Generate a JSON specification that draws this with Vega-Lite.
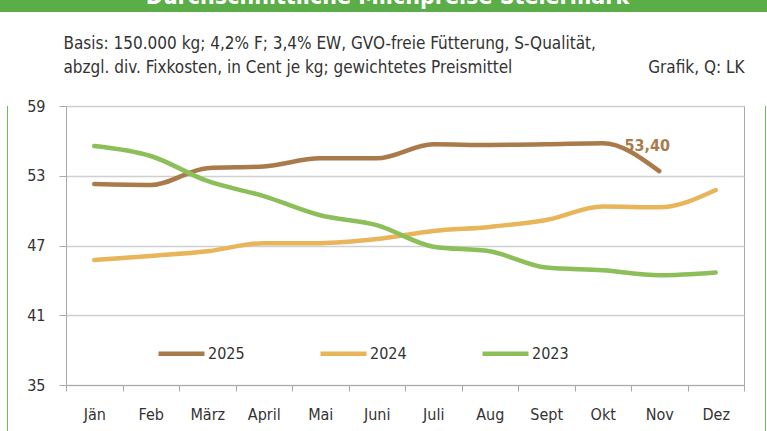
{
  "$schema": "https://vega.github.io/schema/vega-lite/v6.json",
  "padding": 0,
  "background": "white",
  "spacing": 0,
  "config": {
    "font": "DejaVu Sans Condensed, Liberation Sans Narrow, Roboto, sans-serif",
    "locale": {"number": {"decimal": ",", "thousands": ".", "grouping": [3], "currency": ["", " €"]}},
    "concat": {"spacing": 0}
  },
  "datasets": {
    "prices": [
      {"year": "2025", "month": "Jän", "price": 52.28},
      {"year": "2025", "month": "Feb", "price": 52.2},
      {"year": "2025", "month": "März", "price": 53.65},
      {"year": "2025", "month": "April", "price": 53.8},
      {"year": "2025", "month": "Mai", "price": 54.5},
      {"year": "2025", "month": "Juni", "price": 54.5},
      {"year": "2025", "month": "Juli", "price": 55.7},
      {"year": "2025", "month": "Aug", "price": 55.65},
      {"year": "2025", "month": "Sept", "price": 55.7},
      {"year": "2025", "month": "Okt", "price": 55.8},
      {"year": "2025", "month": "Nov", "price": 53.4},
      {"year": "2024", "month": "Jän", "price": 45.75},
      {"year": "2024", "month": "Feb", "price": 46.1},
      {"year": "2024", "month": "März", "price": 46.5},
      {"year": "2024", "month": "April", "price": 47.2},
      {"year": "2024", "month": "Mai", "price": 47.2},
      {"year": "2024", "month": "Juni", "price": 47.55},
      {"year": "2024", "month": "Juli", "price": 48.25},
      {"year": "2024", "month": "Aug", "price": 48.6},
      {"year": "2024", "month": "Sept", "price": 49.2},
      {"year": "2024", "month": "Okt", "price": 50.35},
      {"year": "2024", "month": "Nov", "price": 50.28},
      {"year": "2024", "month": "Dez", "price": 51.77},
      {"year": "2023", "month": "Jän", "price": 55.56},
      {"year": "2023", "month": "Feb", "price": 54.7},
      {"year": "2023", "month": "März", "price": 52.55},
      {"year": "2023", "month": "April", "price": 51.25},
      {"year": "2023", "month": "Mai", "price": 49.6},
      {"year": "2023", "month": "Juni", "price": 48.75},
      {"year": "2023", "month": "Juli", "price": 46.9},
      {"year": "2023", "month": "Aug", "price": 46.5},
      {"year": "2023", "month": "Sept", "price": 45.1},
      {"year": "2023", "month": "Okt", "price": 44.87},
      {"year": "2023", "month": "Nov", "price": 44.44},
      {"year": "2023", "month": "Dez", "price": 44.68}
    ]
  },
  "vconcat": [
    {
      "width": 767,
      "height": 12,
      "view": {"fill": "#5AAD47", "stroke": null},
      "data": {"values": [{"t": "Durchschnittliche Milchpreise Steiermark"}]},
      "mark": {"type": "text", "clip": true, "color": "white", "fontWeight": "bold", "fontSize": 23, "baseline": "alphabetic", "align": "center", "dy": -2, "dx": 4},
      "encoding": {"text": {"field": "t"}}
    },
    {
      "hconcat": [
        {
          "width": 7, "height": 419,
          "view": {"stroke": null},
          "data": {"values": [{"t": ""}]},
          "mark": "text",
          "encoding": {"text": {"field": "t"}}
        },
        {
          "width": 1, "height": 419,
          "view": {"stroke": null, "fill": "#6DBE5B"},
          "data": {"values": [{"t": ""}]},
          "mark": "text",
          "encoding": {"text": {"field": "t"}}
        },
        {
          "width": 678,
          "height": 279,
          "view": {"stroke": "#a9a9a9", "strokeWidth": 1},
          "title": {"text": " ", "fontSize": 2, "anchor": "start", "frame": "group", "offset": 19},
          "data": {"name": "prices"},
          "layer": [
            {
              "mark": {"type": "line", "interpolate": "monotone", "strokeWidth": 4.5, "strokeCap": "round"},
              "encoding": {
                "x": {
                  "field": "month", "type": "ordinal",
                  "sort": ["Jän", "Feb", "März", "April", "Mai", "Juni", "Juli", "Aug", "Sept", "Okt", "Nov", "Dez"],
                  "scale": {"type": "band", "paddingInner": 0, "paddingOuter": 0},
                  "bandPosition": 0.5,
                  "axis": {
                    "tickBand": "extent", "labelAngle": 0, "domainColor": "#a9a9a9", "tickColor": "#a9a9a9",
                    "tickSize": 6, "labelPadding": 15, "labelFontSize": 16, "labelColor": "#333333", "grid": false,
                    "title": "Grafik, Q: LK", "titleX": 678, "titleY": -313, "titleAlign": "right", "titleBaseline": "alphabetic",
                    "titleAngle": 0, "titleFontSize": 17, "titleFontWeight": "normal", "titleColor": "#333333"
                  }
                },
                "y": {
                  "field": "price", "type": "quantitative",
                  "scale": {"domain": [35, 59], "nice": false, "zero": false},
                  "axis": {
                    "values": [35, 41, 47, 53, 59], "domainColor": "#a9a9a9", "tickColor": "#a9a9a9", "tickSize": 7,
                    "labelPadding": 14, "labelFontSize": 16, "labelColor": "#333333", "gridColor": "#d0d0d0", "gridWidth": 1.5,
                    "minExtent": 57, "maxExtent": 57,
                    "title": ["Basis: 150.000 kg; 4,2% F; 3,4% EW, GVO-freie Fütterung, S-Qualität,", "abzgl. div. Fixkosten, in Cent je kg; gewichtetes Preismittel"],
                    "titleX": -3, "titleY": -58, "titleAlign": "left", "titleBaseline": "alphabetic", "titleAngle": 0,
                    "titleFontSize": 17, "titleLineHeight": 24, "titleFontWeight": "normal", "titleColor": "#333333"
                  }
                },
                "color": {
                  "field": "year", "type": "nominal",
                  "scale": {"domain": ["2025", "2024", "2023"], "range": ["#AA7A4B", "#E8B55B", "#8CBE5A"]},
                  "legend": {
                    "title": null, "orient": "none", "legendX": 156, "legendY": 328, "direction": "horizontal",
                    "symbolType": "stroke", "symbolSize": 2116, "symbolStrokeWidth": 4.5, "labelOffset": 1,
                    "columnPadding": 66, "labelFontSize": 16, "labelColor": "#333333"
                  }
                }
              }
            },
            {
              "transform": [{"filter": "datum.year == '2025' && datum.month == 'Nov'"}],
              "mark": {"type": "text", "fontWeight": "bold", "fontSize": 16, "color": "#AA7A4B", "dx": -12, "dy": -25},
              "encoding": {
                "x": {"field": "month", "type": "ordinal", "sort": ["Jän", "Feb", "März", "April", "Mai", "Juni", "Juli", "Aug", "Sept", "Okt", "Nov", "Dez"], "bandPosition": 0.5},
                "y": {"field": "price", "type": "quantitative"},
                "text": {"field": "price", "type": "quantitative", "format": ".2f"}
              }
            }
          ]
        },
        {
          "width": 20, "height": 419,
          "view": {"stroke": null},
          "data": {"values": [{"t": ""}]},
          "mark": "text",
          "encoding": {"text": {"field": "t"}}
        },
        {
          "width": 1, "height": 419,
          "view": {"stroke": null, "fill": "#6DBE5B"},
          "data": {"values": [{"t": ""}]},
          "mark": "text",
          "encoding": {"text": {"field": "t"}}
        }
      ]
    }
  ]
}
